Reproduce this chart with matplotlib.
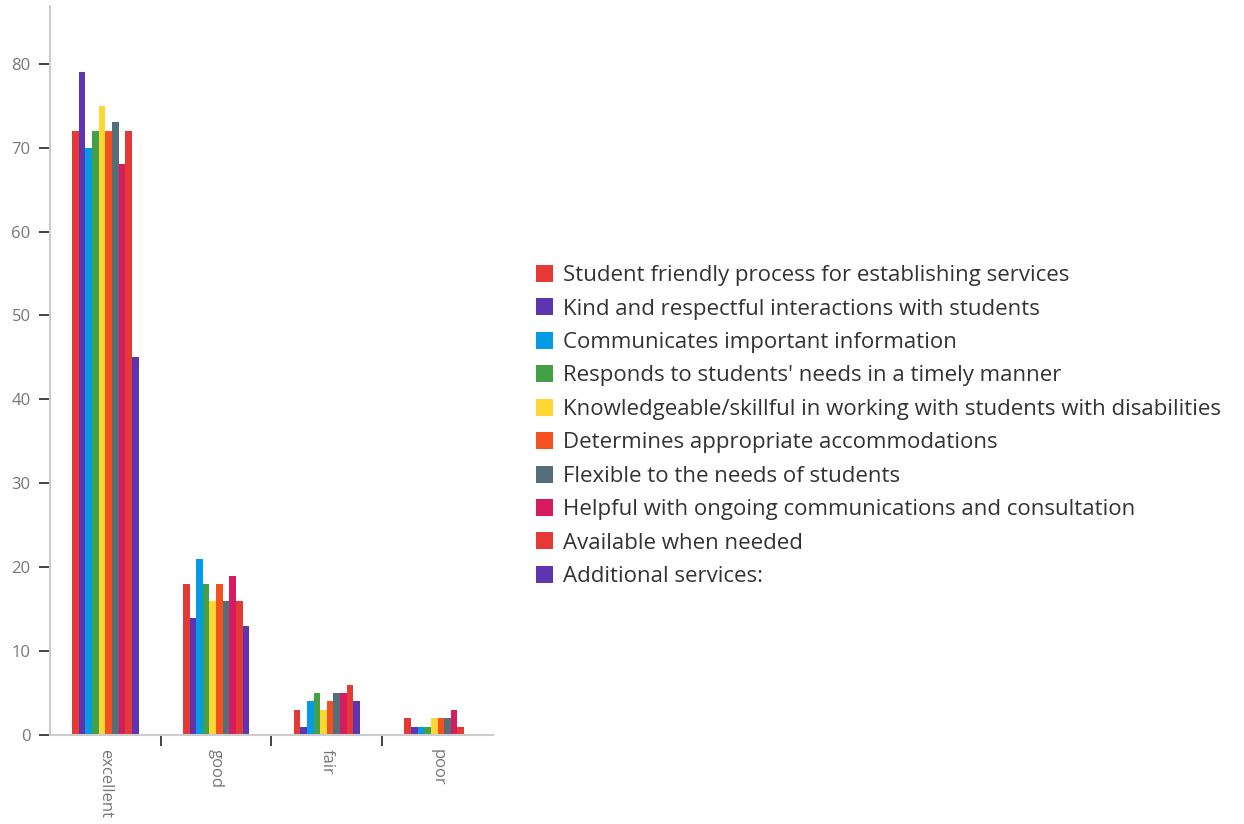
import matplotlib.pyplot as plt
import numpy as np

plt.rcParams['font.family'] = ['Open Sans', 'DejaVu Sans']

ratings = ["excellent", "good", "fair", "poor"]
aspects = [
    "Student friendly process for establishing services",
    "Kind and respectful interactions with students",
    "Communicates important information",
    "Responds to students' needs in a timely manner",
    "Knowledgeable/skillful in working with students with disabilities",
    "Determines appropriate accommodations",
    "Flexible to the needs of students",
    "Helpful with ongoing communications and consultation",
    "Available when needed",
    "Additional services:",
]
# counts per aspect, in order excellent / good / fair / poor
counts = [
    [72, 18, 3, 2],
    [79, 14, 1, 1],
    [70, 21, 4, 1],
    [72, 18, 5, 1],
    [75, 16, 3, 2],
    [72, 18, 4, 2],
    [73, 16, 5, 2],
    [68, 19, 5, 3],
    [72, 16, 6, 1],
    [45, 13, 4, 0],
]
colors = ["#e53935", "#5e35b1", "#039be5", "#43a047", "#fdd835",
          "#f4511e", "#546e7a", "#d81b60", "#e53935", "#5e35b1"]

fig = plt.figure(figsize=(12.44, 8.24), dpi=100)
ax = fig.add_axes([0.0402, 0.108, 0.356, 0.885])

x = np.arange(len(ratings))
bar_w = 0.06
n = len(aspects)
for i, (label, vals, c) in enumerate(zip(aspects, counts, colors)):
    offs = (i - (n - 1) / 2) * bar_w
    ax.bar(x + offs, vals, width=bar_w, color=c, label=label)

ax.set_xlim(-0.5, 3.5)
ax.set_ylim(0, 86.9)
ax.set_yticks(range(0, 81, 10))
ax.set_xticks(x)
ax.set_xticklabels(ratings, rotation=-90, color="#777777", fontsize=12)
ax.set_xticks([0.5, 1.5, 2.5], minor=True)
ax.tick_params(axis="x", which="major", length=0, pad=10)
ax.tick_params(axis="x", which="minor", length=8, width=1.2, color="#222222")
ax.tick_params(axis="y", length=8, width=1.2, color="#222222",
               labelcolor="#777777", labelsize=12, pad=6)

for side in ["top", "right"]:
    ax.spines[side].set_visible(False)
for side in ["left", "bottom"]:
    ax.spines[side].set_color("#cccccc")
    ax.spines[side].set_linewidth(1.5)

fig.legend(loc="center left", bbox_to_anchor=(0.4145, 0.483), frameon=False,
           fontsize=16, handlelength=0.8, handleheight=0.8,
           labelspacing=0.55, handletextpad=0.45, labelcolor="#333333")

plt.savefig("out.png", dpi=100)
